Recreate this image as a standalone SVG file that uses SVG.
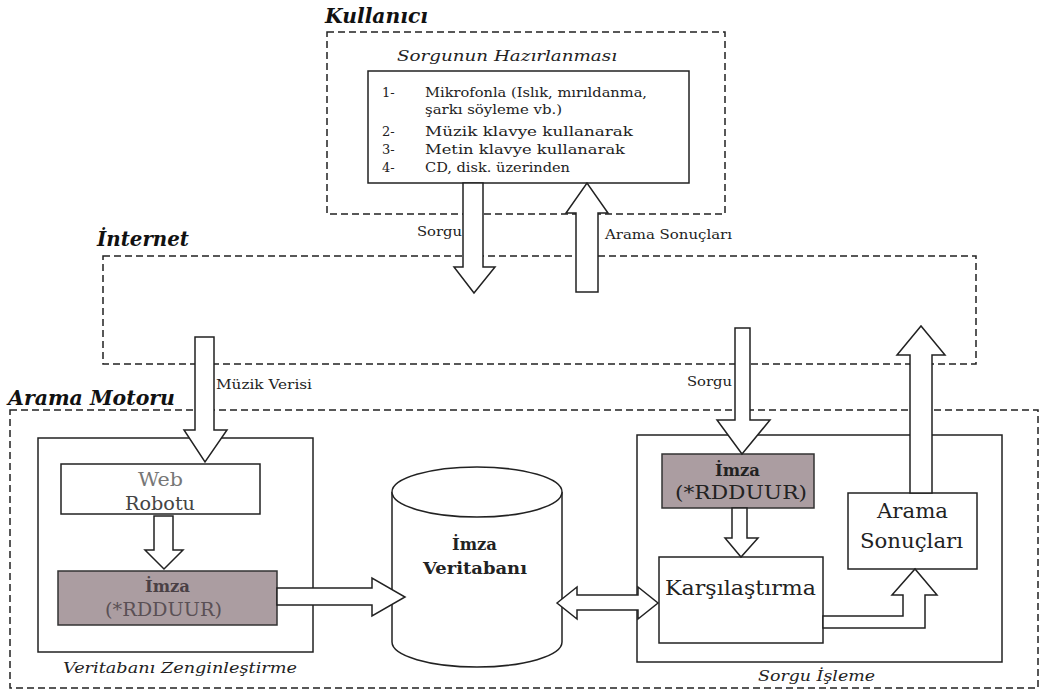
<svg xmlns="http://www.w3.org/2000/svg" width="1040" height="692" viewBox="0 0 1040 692">
<style>
text{font-family:"DejaVu Serif","Liberation Serif",serif}
.dash{fill:none;stroke:#222;stroke-width:1.5;stroke-dasharray:7,4}
.box{fill:#fff;stroke:#222;stroke-width:1.5}
.gray{fill:#ab9da1;stroke:#333;stroke-width:1.5}
.arr{fill:#fff;stroke:#222;stroke-width:1.5;stroke-linejoin:miter}
.title{font-style:italic;font-weight:bold;font-size:20px;fill:#111}
.cap{font-style:italic;font-size:15px;fill:#222}
.lst{font-size:13px;fill:#222}
.lbl{font-size:12px;fill:#222}
.node{font-size:18px;fill:#222}
.bold{font-weight:bold;font-size:17px;fill:#222}
</style>
<rect width="1040" height="692" fill="#fff"/>

<g id="kullanici">
<rect class="dash" x="327" y="32" width="398" height="182"/>
<text class="title" x="325" y="23" textLength="103" lengthAdjust="spacingAndGlyphs">Kullanıcı</text>
<text class="cap" x="397" y="61" textLength="220" lengthAdjust="spacingAndGlyphs">Sorgunun Hazırlanması</text>
<rect class="box" x="368" y="71" width="321" height="112"/>
<text class="lst" x="382" y="97">1-</text>
<text class="lst" x="425" y="97" textLength="222" lengthAdjust="spacingAndGlyphs">Mikrofonla (Islık, mırıldanma,</text>
<text class="lst" x="425" y="114" textLength="137" lengthAdjust="spacingAndGlyphs">şarkı söyleme vb.)</text>
<text class="lst" x="382" y="136">2-</text>
<text class="lst" x="425" y="136" textLength="208" lengthAdjust="spacingAndGlyphs">Müzik klavye kullanarak</text>
<text class="lst" x="382" y="154">3-</text>
<text class="lst" x="425" y="154" textLength="200" lengthAdjust="spacingAndGlyphs">Metin klavye kullanarak</text>
<text class="lst" x="382" y="172">4-</text>
<text class="lst" x="425" y="172" textLength="145" lengthAdjust="spacingAndGlyphs">CD, disk. üzerinden</text>
</g>

<g id="internet">
<rect class="dash" x="103" y="256" width="873" height="108"/>
<text class="title" x="97" y="246" textLength="92" lengthAdjust="spacingAndGlyphs">İnternet</text>
</g>

<g id="arama-motoru">
<rect class="dash" x="10" y="410" width="1028" height="278"/>
<text class="title" x="8" y="405" textLength="167" lengthAdjust="spacingAndGlyphs">Arama Motoru</text>
</g>

<g id="veritabani-zenginlestirme">
<rect class="box" x="38" y="438" width="275" height="214"/>
<text class="cap" x="63" y="673" textLength="234" lengthAdjust="spacingAndGlyphs">Veritabanı Zenginleştirme</text>
</g>

<g id="web-robotu">
<rect class="box" x="61" y="464" width="199" height="50"/>
<text class="node" x="138" y="486" textLength="45" lengthAdjust="spacingAndGlyphs" style="fill:#777">Web</text>
<text class="node" x="125" y="510" textLength="70" lengthAdjust="spacingAndGlyphs" style="fill:#444">Robotu</text>
</g>

<g id="imza-left">
<rect class="gray" x="58" y="571" width="219" height="54"/>
<text class="bold" x="145" y="592" textLength="45" lengthAdjust="spacingAndGlyphs" style="fill:#4a4045">İmza</text>
<text class="node" x="105" y="616" textLength="117" lengthAdjust="spacingAndGlyphs" style="fill:#5a5055">(*RDDUUR)</text>
</g>

<g id="imza-veritabani">
<path class="box" d="M392,492 V642 A85,25 0 0 0 562,642 V492"/>
<ellipse class="box" cx="477" cy="492" rx="85" ry="25"/>
<text class="bold" x="452" y="550" textLength="45" lengthAdjust="spacingAndGlyphs">İmza</text>
<text class="bold" x="423" y="574" textLength="104" lengthAdjust="spacingAndGlyphs">Veritabanı</text>
</g>

<g id="sorgu-isleme">
<rect class="box" x="637" y="435" width="365" height="227"/>
<text class="cap" x="758" y="681" textLength="117" lengthAdjust="spacingAndGlyphs">Sorgu İşleme</text>
</g>

<g id="imza-right">
<rect class="gray" x="662" y="454" width="152" height="54"/>
<text class="bold" x="715" y="476" textLength="45" lengthAdjust="spacingAndGlyphs">İmza</text>
<text class="node" x="675" y="499" textLength="132" lengthAdjust="spacingAndGlyphs">(*RDDUUR)</text>
</g>

<g id="karsilastirma">
<rect class="box" x="659" y="557" width="164" height="86"/>
<text class="node" x="665" y="595" textLength="151" lengthAdjust="spacingAndGlyphs" style="font-size:20px">Karşılaştırma</text>
</g>

<g id="arama-sonuclari">
<rect class="box" x="848" y="493" width="129" height="76"/>
<text class="node" x="877" y="518" textLength="71" lengthAdjust="spacingAndGlyphs" style="font-size:20px">Arama</text>
<text class="node" x="860" y="548" textLength="103" lengthAdjust="spacingAndGlyphs" style="font-size:20px">Sonuçları</text>
</g>

<g id="connectors">
<path class="arr" d="M463,183 V267 H454 L474,293 L495,267 H483 V183 Z"/>
<text class="lbl" x="417" y="236" textLength="45" lengthAdjust="spacingAndGlyphs">Sorgu</text>
<path class="arr" d="M576,292 V213 H566 L587,183 L608,213 H598 V292 Z"/>
<text class="lbl" x="605" y="239" textLength="127" lengthAdjust="spacingAndGlyphs">Arama Sonuçları</text>
<path class="arr" d="M195,337 V430 H184 L205,462 L227,430 H214 V337 Z"/>
<text class="lbl" x="216" y="389" textLength="96" lengthAdjust="spacingAndGlyphs">Müzik Verisi</text>
<path class="arr" d="M154,516 V550 H145 L164,569 L183,550 H173 V516 Z"/>
<path class="arr" d="M277,588 H372 V578 L405,597 L372,616 V605 H277 Z"/>
<path class="arr" d="M557,603 L577,587 V595 H638 V587 L658,603 L638,619 V610 H577 V619 Z"/>
<path class="arr" d="M735,328 V420 H717 L742,454 L770,420 H750 V328 Z"/>
<text class="lbl" x="687" y="386" textLength="45" lengthAdjust="spacingAndGlyphs">Sorgu</text>
<path class="arr" d="M732,508 V538 H725 L741,557 L758,538 H747 V508 Z"/>
<path class="arr" d="M823,616 H903 V595 H892 L915,569 L937,595 H925 V628 H823 Z"/>
<path class="arr" d="M910,493 V355 H897 L921,326 L945,355 H932 V493 Z"/>
</g>
</svg>
